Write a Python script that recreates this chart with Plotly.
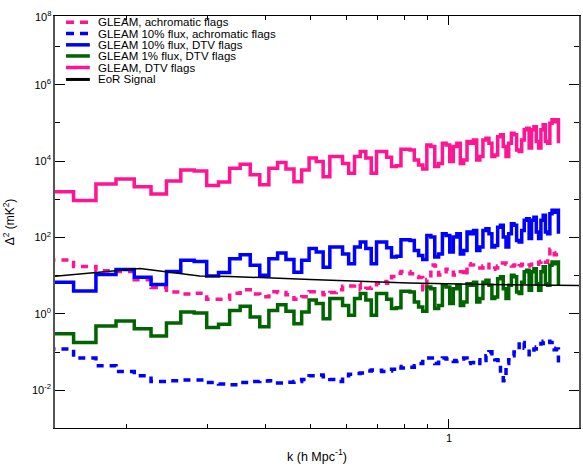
import numpy as np
import plotly.graph_objects as go

# === k bins (left edges, h Mpc^-1) ===
k_bins = [0.1352, 0.1533, 0.1714, 0.1895, 0.2076, 0.2257, 0.2438, 0.2619, 0.2800, 0.2981,
          0.3162, 0.3343, 0.3524, 0.3705, 0.3886, 0.4067, 0.4248, 0.4429, 0.4610, 0.4791,
          0.4972, 0.5153, 0.5334, 0.5515, 0.5696, 0.5877, 0.6058, 0.6239, 0.6420, 0.6601,
          0.6782, 0.6963, 0.7144, 0.7325, 0.7506, 0.7687, 0.7868, 0.8049, 0.8230, 0.8411,
          0.8592, 0.8773, 0.8954, 0.9135, 0.9316, 0.9497, 0.9678, 0.9859, 1.0040, 1.0221,
          1.0402, 1.0583, 1.0764, 1.0945, 1.1126, 1.1307, 1.1488, 1.1669, 1.1850, 1.2031,
          1.2212, 1.2393, 1.2574, 1.2755, 1.2936, 1.3117, 1.3298, 1.3479, 1.3660, 1.3841,
          1.4022, 1.4203, 1.4384, 1.4565, 1.4746, 1.4927, 1.5108, 1.5289, 1.5470, 1.5651,
          1.5832, 1.6013, 1.6194, 1.6375, 1.6556, 1.6737, 1.6918, 1.7099, 1.7280]

# === power spectra, log10(mK^2) ===
gleam_achro_log = [1.41, 1.24, 1.13, 1.11, 0.89, 0.69, 0.57, 0.52, 0.54, 0.38,
                   0.38, 0.54, 0.63, 0.52, 0.45, 0.58, 0.56, 0.50, 0.38, 0.45,
                   0.58, 0.56, 0.50, 0.56, 0.63, 0.72, 0.73, 0.79, 0.63, 0.67,
                   0.69, 0.80, 0.85, 0.80, 0.98, 1.06, 1.11, 1.11, 1.05, 0.98,
                   0.95, 0.63, 0.90, 1.28, 1.25, 1.02, 1.10, 1.17, 1.15, 1.02,
                   1.05, 1.10, 1.00, 1.31, 1.28, 1.22, 1.20, 1.20, 1.25, 1.30,
                   1.15, 1.17, 1.20, 1.25, 1.33, 1.33, 1.30, 1.28, 1.25, 1.28,
                   1.22, 1.26, 1.30, 1.28, 1.25, 1.28, 1.30, 1.33, 1.30, 1.35,
                   1.38, 1.41, 1.35, 1.45, 1.69, 1.65, 1.55, 1.60, 1.60]

gleam10_achro_log = [-0.92, -1.16, -1.36, -1.51, -1.62, -1.77, -1.75, -1.73, -1.73, -1.80,
                     -1.84, -1.86, -1.80, -1.77, -1.76, -1.75, -1.81, -1.79, -1.77, -1.72,
                     -1.62, -1.60, -1.65, -1.72, -1.77, -1.62, -1.58, -1.56, -1.55, -1.50,
                     -1.47, -1.48, -1.51, -1.50, -1.45, -1.38, -1.42, -1.40, -1.40, -1.36,
                     -1.30, -1.25, -1.16, -1.16, -1.30, -1.20, -1.16, -1.18, -1.22, -1.25,
                     -1.22, -1.18, -1.16, -1.30, -1.28, -1.20, -1.20, -1.30, -1.22, -1.10,
                     -0.99, -1.10, -1.20, -1.22, -1.55, -1.75, -1.30, -1.20, -1.10, -1.00,
                     -0.95, -0.72, -0.75, -0.90, -0.92, -1.07, -1.00, -0.92, -0.87, -0.85,
                     -0.78, -0.72, -0.70, -0.72, -0.75, -0.90, -0.94, -0.92, -1.29]

gleam10_dtv_log = [0.83, 0.60, 1.03, 1.16, 0.96, 0.77, 1.11, 1.40, 1.37, 0.99,
                   1.08, 1.44, 1.55, 1.27, 1.01, 1.44, 1.59, 1.42, 1.09, 1.40,
                   1.71, 1.62, 1.22, 1.75, 1.75, 1.57, 1.31, 1.75, 1.88, 1.71,
                   1.31, 1.88, 1.88, 1.73, 1.49, 1.51, 1.94, 1.94, 1.92, 1.66,
                   1.53, 1.42, 2.05, 2.01, 1.49, 1.57, 2.10, 2.05, 1.62, 2.01,
                   2.10, 1.57, 1.66, 2.14, 2.10, 2.18, 1.66, 1.75, 2.18, 2.23,
                   2.10, 1.75, 1.79, 2.27, 2.32, 2.01, 1.75, 2.10, 2.36, 2.32,
                   1.92, 1.88, 2.18, 2.45, 2.49, 1.97, 2.45, 2.53, 2.14, 1.97,
                   2.45, 2.58, 2.14, 2.10, 2.62, 2.71, 2.66, 2.71, 2.10]

gleam1_dtv_log = [-0.52, -0.75, -0.32, -0.19, -0.39, -0.58, -0.24, 0.05, 0.02, -0.36,
                  -0.27, 0.09, 0.20, -0.08, -0.34, 0.09, 0.24, 0.07, -0.26, 0.05,
                  0.36, 0.27, -0.13, 0.40, 0.40, 0.22, -0.04, 0.40, 0.53, 0.36,
                  -0.04, 0.53, 0.53, 0.38, 0.14, 0.16, 0.59, 0.59, 0.57, 0.31,
                  0.18, 0.07, 0.70, 0.66, 0.14, 0.22, 0.75, 0.70, 0.27, 0.66,
                  0.75, 0.22, 0.31, 0.79, 0.75, 0.83, 0.31, 0.40, 0.83, 0.88,
                  0.75, 0.40, 0.44, 0.92, 0.97, 0.66, 0.40, 0.75, 1.01, 0.97,
                  0.57, 0.53, 0.83, 1.10, 1.14, 0.62, 1.10, 1.18, 0.79, 0.62,
                  1.10, 1.23, 0.79, 0.75, 1.27, 1.36, 1.31, 1.36, 0.75]

gleam_dtv_log = [3.20, 2.97, 3.40, 3.53, 3.33, 3.14, 3.48, 3.77, 3.74, 3.36,
                 3.45, 3.81, 3.92, 3.64, 3.38, 3.81, 3.96, 3.79, 3.46, 3.77,
                 4.08, 3.99, 3.59, 4.12, 4.12, 3.94, 3.68, 4.12, 4.25, 4.08,
                 3.68, 4.25, 4.25, 4.10, 3.86, 3.88, 4.31, 4.31, 4.29, 4.03,
                 3.90, 3.79, 4.42, 4.38, 3.86, 3.94, 4.47, 4.42, 3.99, 4.38,
                 4.47, 3.94, 4.03, 4.51, 4.47, 4.55, 4.03, 4.12, 4.55, 4.60,
                 4.47, 4.12, 4.16, 4.64, 4.69, 4.38, 4.12, 4.47, 4.73, 4.69,
                 4.29, 4.25, 4.55, 4.82, 4.86, 4.34, 4.82, 4.90, 4.51, 4.34,
                 4.82, 4.95, 4.51, 4.47, 4.99, 5.08, 5.03, 5.08, 4.47]

# EoR signal (smooth)
eor_k = [0.135, 0.2136, 0.2878, 0.334, 0.50, 0.818, 1.20, 1.95]
eor_log = [0.97, 1.19, 0.99, 0.98, 0.90, 0.81, 0.77, 0.74]

PINK = "#FF1493"
BLUE = "#0000FF"
GREEN = "#006400"

series = [
    ("GLEAM, achromatic flags", gleam_achro_log, PINK, "7px,6px"),
    ("GLEAM 10% flux, achromatic flags", gleam10_achro_log, BLUE, "7px,6px"),
    ("GLEAM 10% flux, DTV flags", gleam10_dtv_log, BLUE, "solid"),
    ("GLEAM 1% flux, DTV flags", gleam1_dtv_log, GREEN, "solid"),
    ("GLEAM, DTV flags", gleam_dtv_log, PINK, "solid"),
]

fig = go.Figure()

for name, vals, color, dash in series:
    fig.add_trace(go.Scatter(
        x=k_bins, y=10 ** np.array(vals),
        mode="lines", line=dict(color=color, width=3.5, dash=dash, shape="hv"),
        name=name, showlegend=False
    ))

fig.add_trace(go.Scatter(
    x=eor_k, y=10 ** np.array(eor_log),
    mode="lines", line=dict(color="black", width=1.5),
    name="EoR Signal", showlegend=False
))

# === hand-drawn legend (compact rows like the original) ===
legend_rows = [(s[0], s[2], s[3]) for s in series] + [("EoR Signal", "black", "solid")]
row_y = [0.985, 0.9575, 0.930, 0.903, 0.875, 0.846]
for (label, color, dash), yy in zip(legend_rows, row_y):
    fig.add_shape(type="line", xref="paper", yref="paper",
                  x0=0.021, x1=0.0665, y0=yy, y1=yy,
                  line=dict(color=color, width=3.5 if color != "black" else 3,
                            dash="8px,6px" if dash != "solid" else "solid"))
    fig.add_annotation(xref="paper", yref="paper", x=0.078, y=yy, text=label,
                       showarrow=False, xanchor="left", yanchor="middle",
                       font=dict(size=11.5, color="black"))

# top label of the y axis sits at the frame edge
fig.add_annotation(xref="paper", yref="paper", x=0, y=1, text="10<sup>8</sup>",
                   showarrow=False, xanchor="right", yanchor="middle", xshift=-1,
                   font=dict(size=11, color="black"))

fig.update_layout(
    width=583, height=466,
    margin=dict(l=55, r=2, t=16, b=38),
    plot_bgcolor="white", paper_bgcolor="white",
    font=dict(family="Liberation Sans, Arial, sans-serif", size=11, color="black"),
)

fig.update_xaxes(
    type="log", range=[np.log10(0.1397), np.log10(1.915)],
    tickvals=[1], ticktext=["1"], ticks="inside", ticklen=9, tickcolor="black",
    minor=dict(tickvals=[0.2, 0.3, 0.4, 0.5, 0.6, 0.7, 0.8, 0.9],
               ticks="inside", ticklen=4, tickcolor="black"),
    showline=True, linecolor="black", linewidth=1.2, mirror="ticks",
    showgrid=False, zeroline=False,
    title=dict(text="k (h Mpc<sup>-1</sup>)", font=dict(size=12.5), standoff=8),
)

fig.update_yaxes(
    type="log", range=[-2.99, 7.80],
    tickvals=[1e-2, 1, 1e2, 1e4, 1e6],
    ticktext=["10<sup>-2</sup>", "10<sup>0</sup>", "10<sup>2</sup>",
              "10<sup>4</sup>", "10<sup>6</sup>"],
    ticks="inside", ticklen=10, tickcolor="black",
    minor=dict(tickvals=[1e-1, 1e1, 1e3, 1e5, 1e7],
               ticks="inside", ticklen=5, tickcolor="black"),
    showline=True, linecolor="#555555", linewidth=1.6, mirror="ticks",
    showgrid=False, zeroline=False,
    title=dict(text="Δ<sup>2</sup> (mK<sup>2</sup>)", font=dict(size=12)),
)

# the page's default body margin would shift the fixed-size figure
fig.write_html("out.html", config={"displayModeBar": False},
               post_script="document.body.style.margin='0px';")
